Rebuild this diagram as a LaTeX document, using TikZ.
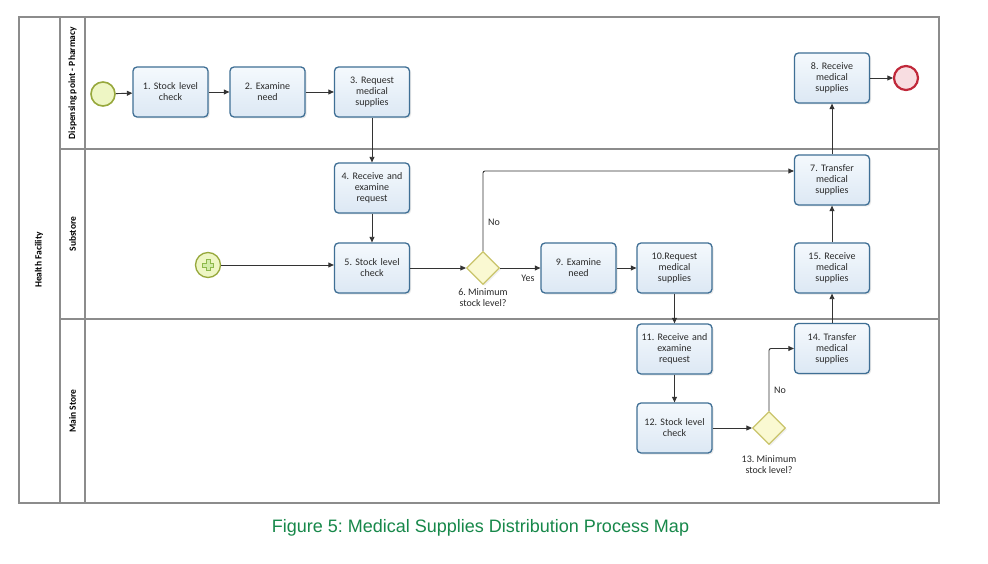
\documentclass[tikz,border=0pt]{standalone}
\usepackage{fontspec}
\setmainfont{Carlito}
\newfontfamily\capfont{Liberation Sans}
\usetikzlibrary{shapes.geometric,arrows.meta,shadows}
\definecolor{boxline}{HTML}{3F6F95}
\definecolor{boxfillA}{HTML}{F5F9FD}
\definecolor{boxfillB}{HTML}{DCE8F4}
\definecolor{laneline}{HTML}{8C8C8C}
\definecolor{flow}{HTML}{333333}
\definecolor{gwline}{HTML}{C9C46A}
\definecolor{gwfill}{HTML}{FAF9D2}
\definecolor{startline}{HTML}{97A83C}
\definecolor{startfill}{HTML}{EEF6C4}
\definecolor{plusline}{HTML}{8DB84A}
\definecolor{plusfill}{HTML}{D2EBA8}
\definecolor{endline}{HTML}{C0283A}
\definecolor{endfill}{HTML}{F8DDE1}
\definecolor{capgreen}{HTML}{17884A}
\definecolor{txt}{HTML}{2A2A2A}
\frenchspacing
\begin{document}
\frenchspacing
\begin{tikzpicture}[x=1pt,y=-1pt,
 task/.style={draw=boxline, line width=1.3pt, rounded corners=4pt, top color=boxfillA, bottom color=boxfillB,
   minimum width=75pt, minimum height=50pt, inner sep=1pt, align=center, text width=72pt,
   font=\fontsize{10}{11}\selectfont, text=txt,
   drop shadow={opacity=0.18, shadow xshift=1.5pt, shadow yshift=-1.5pt}},
 gw/.style={diamond, draw=gwline, fill=gwfill, line width=1.2pt, minimum width=33pt, minimum height=33pt,
   inner sep=0pt, drop shadow={opacity=0.12, shadow xshift=1.5pt, shadow yshift=-1.5pt}},
 evstart/.style={circle, draw=startline, fill=startfill, line width=1.6pt, minimum size=24pt, inner sep=0pt},
 evend/.style={circle, draw=endline, fill=endfill, line width=2.2pt, minimum size=24pt, inner sep=0pt},
 flowline/.style={draw=flow, line width=0.9pt, -{Triangle[length=5.5pt,width=5pt]}},
 lbl/.style={font=\fontsize{10}{11}\selectfont, text=txt, align=center, inner sep=0pt},
 lane/.style={draw=laneline, line width=1.2pt},
 lanetitle/.style={rotate=90, font=\bfseries\fontsize{9.5}{11}\selectfont, text=black, inner sep=1pt}
]
\useasboundingbox[fill=white] (0,0) rectangle (988,564);

% pool and lanes
\draw[lane] (19,17) rectangle (939,503);
\draw[lane] (60,17) -- (60,503);
\draw[lane] (85,17) -- (85,503);
\draw[lane] (60,149) -- (939,149);
\draw[lane] (60,319) -- (939,319);

\node[lanetitle] (hf) at (39,260) {Health Facility};
\node[lanetitle] (lp) at (72.5,83) {Dispensing point - Pharmacy};
\node[lanetitle] (ls) at (72.5,234) {Substore};
\node[lanetitle] (lm) at (72.5,411) {Main Store};

% events
\node[evstart] (s1) at (103,94) {};
\node[evstart, line width=1.3pt, minimum size=25pt] (ps) at (208,265) {};
\begin{scope}[shift={(208,265)}]
\draw[fill=plusfill, draw=plusline, line width=0.6pt]
  (-2,-5.5) -- (2,-5.5) -- (2,-2) -- (5.5,-2) -- (5.5,2) -- (2,2) -- (2,5.5) -- (-2,5.5)
  -- (-2,2) -- (-5.5,2) -- (-5.5,-2) -- (-2,-2) -- cycle;
\end{scope}
\node[evend] (e1) at (906,78) {};

% tasks
\node[task] (t1) at (170.5,92) {1. Stock level\\check};
\node[task] (t2) at (267.5,92) {2. Examine\\need};
\node[task] (t3) at (372,92) {3. Request\\medical\\supplies};
\node[task] (t4) at (372,188) {4. Receive and\\examine\\request};
\node[task] (t5) at (372,268) {5. Stock level\\check};
\node[task] (t9) at (578.5,268) {9. Examine\\need};
\node[task] (t10) at (674.5,268) {10.Request\\medical\\supplies};
\node[task] (t7) at (832,180) {7. Transfer\\medical\\supplies};
\node[task] (t8) at (832,78) {8. Receive\\medical\\supplies};
\node[task] (t15) at (832,268) {15. Receive\\medical\\supplies};
\node[task] (t14) at (832,348.5) {14. Transfer\\medical\\supplies};
\node[task] (t11) at (674.5,349) {11. Receive and\\examine\\request};
\node[task] (t12) at (674.5,428) {12. Stock level\\check};

% gateways
\node[gw] (g6) at (483,268) {};
\node[lbl] (g6l) at (483,297.5) {6. Minimum\\stock level?};
\node[gw] (g13) at (769,428) {};
\node[lbl] (g13l) at (769,464.5) {13. Minimum\\stock level?};

% flows
\draw[flowline] (s1) -- (t1);
\draw[flowline] (t1) -- (t2);
\draw[flowline] (t2) -- (t3);
\draw[flowline] (t3) -- (t4);
\draw[flowline] (t4) -- (t5);
\draw[flowline] (ps) -- (ps -| t5.west);
\draw[flowline] (t5) -- (g6);
\draw[flowline] (g6) -- (t9);
\coordinate (nolvl) at (0,171);
\draw[flowline, rounded corners=2pt] (g6.north) -- (g6.north |- nolvl) -- (t7.west |- nolvl);
\draw[flowline] (t9) -- (t10);
\draw[flowline] (t10) -- (t11);
\draw[flowline] (t11) -- (t12);
\draw[flowline] (t12) -- (g13);
\draw[flowline, rounded corners=2pt] (g13.north) |- (t14.west);
\draw[flowline] (t14) -- (t15);
\draw[flowline] (t15) -- (t7);
\draw[flowline] (t7) -- (t8);
\draw[flowline] (t8) -- (e1);

\node[lbl] (yes) at (528,278) {Yes};
\node[lbl] (no6) at (494,222) {No};
\node[lbl] (no13) at (780,390) {No};

% caption
\node[font=\capfont\fontsize{18}{20}\selectfont, text=capgreen, anchor=base, inner sep=0pt] (cap)
  at (480.5,532) {Figure 5: Medical Supplies Distribution Process Map};
\end{tikzpicture}
\end{document}
